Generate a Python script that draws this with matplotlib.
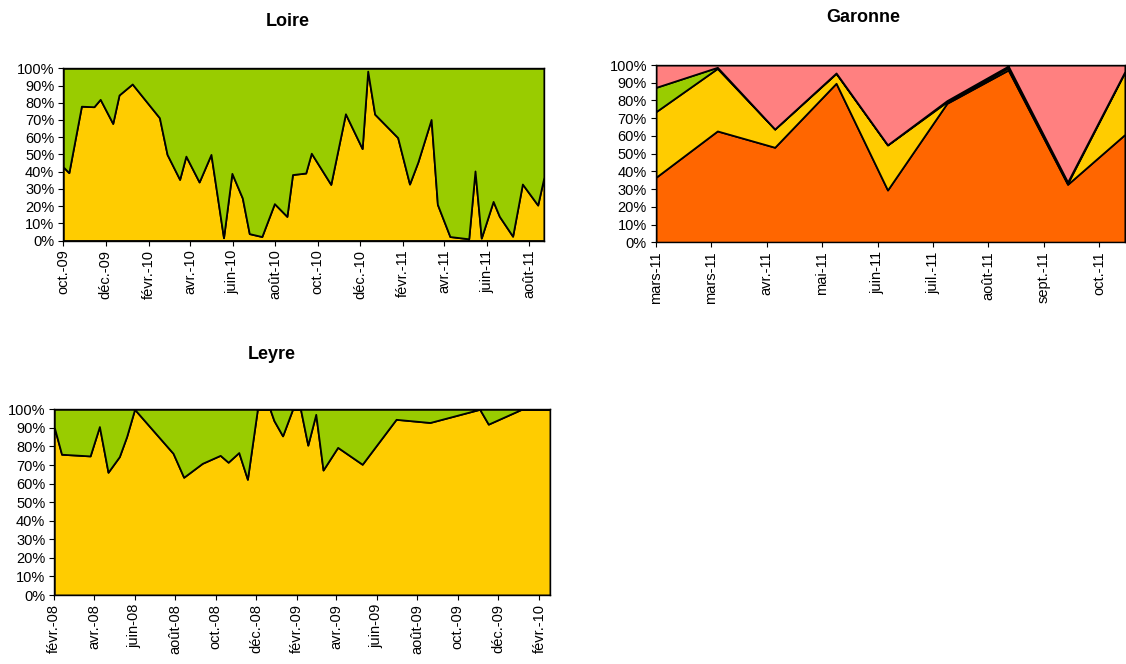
import matplotlib.pyplot as plt
import matplotlib.dates as mdates
import pandas as pd
import numpy as np

plt.rcParams['font.family'] = ['Liberation Sans', 'DejaVu Sans']

# Loire : part jaune (le reste en vert)
loire_dates = ['2009-10-01', '2009-10-09', '2009-10-27', '2009-11-14', '2009-11-23',
               '2009-12-11', '2009-12-20', '2010-01-08', '2010-02-16', '2010-02-27',
               '2010-03-17', '2010-03-26', '2010-04-14', '2010-05-01', '2010-05-19',
               '2010-05-31', '2010-06-15', '2010-06-25', '2010-07-13', '2010-07-31',
               '2010-08-18', '2010-08-26', '2010-09-14', '2010-09-22', '2010-10-20',
               '2010-11-10', '2010-12-04', '2010-12-12', '2010-12-22', '2011-01-24',
               '2011-02-10', '2011-02-22', '2011-03-13', '2011-03-22', '2011-04-09',
               '2011-05-06', '2011-05-15', '2011-05-24', '2011-06-10', '2011-06-19',
               '2011-07-08', '2011-07-22', '2011-08-13', '2011-08-22']
loire_jaune = [42.7, 39.4, 78, 77.7, 82, 68, 84.5, 90.9, 71.3, 50,
               35.5, 49, 34, 50, 1.6, 39, 24.7, 4, 2.3, 21.4,
               14, 38.3, 39.2, 50.7, 32.6, 73.6, 53.4, 98.4, 73.4, 59.8,
               32.8, 45.6, 70.3, 21, 2.3, 1, 40.4, 1.4, 22.7, 14,
               2.5, 32.8, 20.6, 36.9]
loire_ticks = ['2009-10-01', '2009-12-01', '2010-02-01', '2010-04-01', '2010-06-01',
               '2010-08-01', '2010-10-01', '2010-12-01', '2011-02-01', '2011-04-01',
               '2011-06-01', '2011-08-01']
loire_labels = ['oct.-09', 'déc.-09', 'févr.-10', 'avr.-10', 'juin-10', 'août-10',
                'oct.-10', 'déc.-10', 'févr.-11', 'avr.-11', 'juin-11', 'août-11']

# Garonne : 4 séries empilées
garonne_dates = ['2011-03-01', '2011-04-01', '2011-04-30', '2011-05-31', '2011-06-26',
                 '2011-07-26', '2011-08-26', '2011-09-25', '2011-10-24']
garonne_orange = [36.7, 62.8, 53.6, 89.7, 29.5, 78.4, 97.2, 32.7, 60.9]
garonne_jaune = [37.0, 35.3, 10.3, 5.6, 25.4, 0.9, 1.3, 0.6, 35.3]
garonne_vert = [13.7, 0.6, 0.0, 0.2, 0.1, 0.6, 0.9, 0.7, 0.3]
garonne_labels = ['mars-11', 'mars-11', 'avr.-11', 'mai-11', 'juin-11', 'juil.-11',
                  'août-11', 'sept.-11', 'oct.-11']

# Leyre : part jaune
leyre_dates = ['2008-02-01', '2008-02-12', '2008-03-26', '2008-04-09', '2008-04-22',
               '2008-05-09', '2008-05-20', '2008-06-01', '2008-07-29', '2008-08-14',
               '2008-09-11', '2008-10-08', '2008-10-20', '2008-11-05', '2008-11-18',
               '2008-12-03', '2008-12-22', '2008-12-28', '2009-01-10', '2009-01-25',
               '2009-02-06', '2009-02-17', '2009-03-01', '2009-03-12', '2009-04-03',
               '2009-05-10', '2009-06-30', '2009-08-20', '2009-11-03', '2009-11-16',
               '2010-01-05', '2010-02-17']
leyre_jaune = [90.3, 75.8, 74.9, 90.7, 66.1, 74.5, 85.3, 100, 76.3, 63.4,
               70.9, 75.2, 71.5, 76.7, 62.3, 100, 100, 93.9, 85.7, 100,
               100, 80.7, 97.3, 67.3, 79.5, 70.4, 94.6, 92.9, 100, 92,
               100, 100]
leyre_ticks = ['2008-02-01', '2008-04-01', '2008-06-01', '2008-08-01', '2008-10-01',
               '2008-12-01', '2009-02-01', '2009-04-01', '2009-06-01', '2009-08-01',
               '2009-10-01', '2009-12-01', '2010-02-01']
leyre_labels = ['févr.-08', 'avr.-08', 'juin-08', 'août-08', 'oct.-08', 'déc.-08',
                'févr.-09', 'avr.-09', 'juin-09', 'août-09', 'oct.-09', 'déc.-09',
                'févr.-10']

JAUNE = '#FFCC00'
VERT = '#99CC00'
ORANGE = '#FF6600'
ROSE = '#FF8080'
FS = 10.5


def style_axes(ax, ticks, labels, x0, x1):
    ax.set_xlim(mdates.date2num(pd.Timestamp(x0)), mdates.date2num(pd.Timestamp(x1)))
    ax.set_ylim(0, 100)
    ax.set_yticks(np.arange(0, 101, 10))
    ax.set_yticklabels([f'{v}%' for v in range(0, 101, 10)], fontsize=FS)
    ax.set_xticks(mdates.date2num(pd.to_datetime(ticks)))
    ax.set_xticklabels(labels, rotation=90, fontsize=FS)
    ax.tick_params(direction='out', length=3.5, width=0.8, pad=3)
    for s in ax.spines.values():
        s.set_linewidth(1.0)
        s.set_color('black')


fig = plt.figure(figsize=(11.26, 6.64), dpi=100)

# Loire
ax1 = fig.add_axes([0.0562, 0.6378, 0.4269, 0.2593])
x = mdates.date2num(pd.to_datetime(loire_dates))
y = np.array(loire_jaune)
ax1.stackplot(x, y, 100 - y, colors=[JAUNE, VERT], edgecolor='black', linewidth=1.3)
style_axes(ax1, loire_ticks, loire_labels, '2009-10-01', '2011-08-22')
fig.text(288 / 1126, 0.9613, 'Loire', ha='center', va='baseline',
         fontsize=13, fontweight='bold')

# Garonne
ax2 = fig.add_axes([0.5826, 0.6351, 0.4165, 0.267])
x = mdates.date2num(pd.to_datetime(garonne_dates))
o = np.array(garonne_orange)
j = np.array(garonne_jaune)
v = np.array(garonne_vert)
r = 100 - o - j - v
ax2.stackplot(x, o, j, v, r, colors=[ORANGE, JAUNE, VERT, ROSE],
              edgecolor='black', linewidth=1.3)
g_ticks = pd.date_range('2011-03-01', periods=len(garonne_labels), freq='28D')
style_axes(ax2, g_ticks, garonne_labels, '2011-03-01', '2011-10-24')
fig.text(863 / 1126, 0.9673, 'Garonne', ha='center', va='baseline',
         fontsize=13, fontweight='bold')

# Leyre
ax3 = fig.add_axes([0.0482, 0.1039, 0.4403, 0.2797])
x = mdates.date2num(pd.to_datetime(leyre_dates))
y = np.array(leyre_jaune)
ax3.stackplot(x, y, 100 - y, colors=[JAUNE, VERT], edgecolor='black', linewidth=1.3)
style_axes(ax3, leyre_ticks, leyre_labels, '2008-02-01', '2010-02-17')
fig.text(272 / 1126, 0.4593, 'Leyre', ha='center', va='baseline',
         fontsize=13, fontweight='bold')

fig.savefig('out.png', dpi=100)
